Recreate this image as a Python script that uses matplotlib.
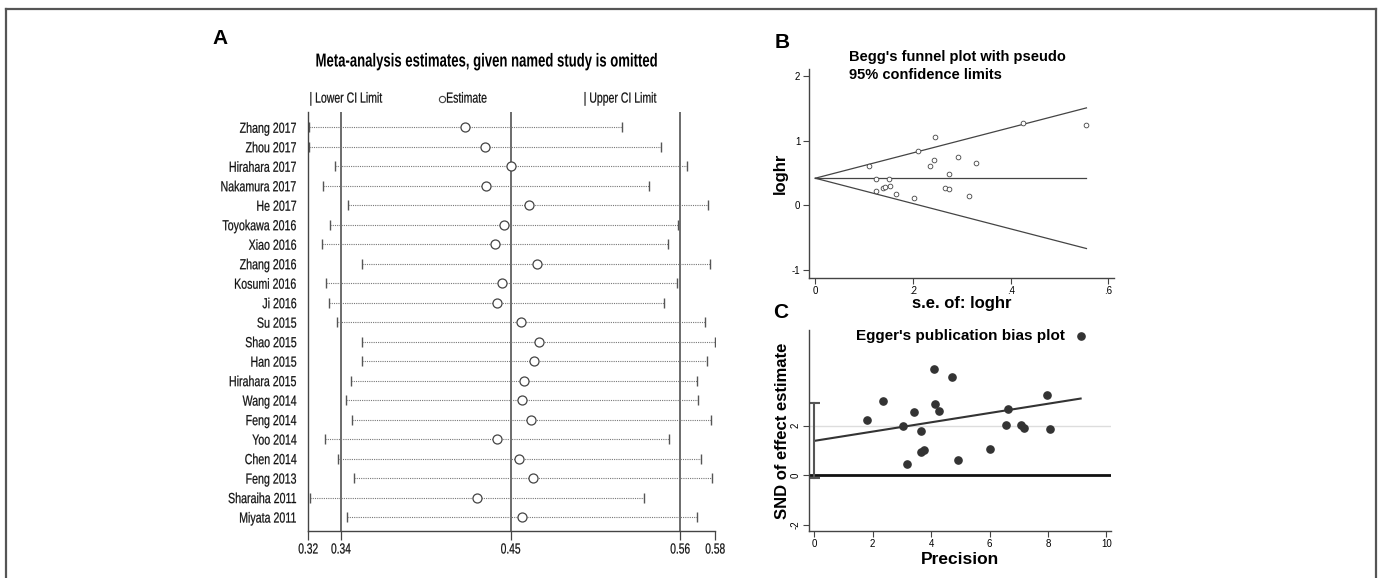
import numpy as np
import matplotlib.pyplot as plt
from matplotlib.lines import Line2D
from matplotlib.patheffects import AbstractPathEffect
from matplotlib.transforms import Affine2D
import matplotlib.transforms as mtransforms

W, H = 1381, 578

# panel A: leave-one-out estimates
studies = ["Zhang 2017", "Zhou 2017", "Hirahara 2017", "Nakamura 2017", "He 2017",
           "Toyokawa 2016", "Xiao 2016", "Zhang 2016", "Kosumi 2016", "Ji 2016",
           "Su 2015", "Shao 2015", "Han 2015", "Hirahara 2015", "Wang 2014",
           "Feng 2014", "Yoo 2014", "Chen 2014", "Feng 2013", "Sharaiha 2011",
           "Miyata 2011"]
est = [0.4207, 0.4335, 0.4500, 0.4341, 0.4613, 0.4454, 0.4398, 0.4664, 0.4441, 0.4409,
       0.4562, 0.4678, 0.4648, 0.4581, 0.4570, 0.4627, 0.4409, 0.4553, 0.4642, 0.4284,
       0.4570]
lower = [0.3214, 0.3214, 0.3378, 0.3304, 0.3465, 0.3346, 0.3295, 0.3554, 0.3323, 0.3344,
         0.3391, 0.3554, 0.3554, 0.3480, 0.3452, 0.3486, 0.3314, 0.3397, 0.3503, 0.3223,
         0.3456]
upper = [0.5206, 0.5455, 0.5620, 0.5376, 0.5756, 0.5561, 0.5501, 0.5766, 0.5558, 0.5476,
         0.5735, 0.5800, 0.5745, 0.5684, 0.5688, 0.5771, 0.5507, 0.5709, 0.5781, 0.5348,
         0.5684]
ref_lines = [0.3418, 0.4498, 0.5577]
a_ticks = [0.321, 0.3418, 0.4498, 0.5577, 0.58]
a_ticklabels = ["0.32", "0.34", "0.45", "0.56", "0.58"]

# panel B: Begg's funnel
se = [0.109, 0.125, 0.124, 0.139, 0.142, 0.151, 0.152, 0.166, 0.202, 0.211, 0.234,
      0.242, 0.244, 0.265, 0.273, 0.273, 0.292, 0.314, 0.329, 0.425, 0.555]
loghr = [0.614, 0.403, 0.227, 0.263, 0.279, 0.403, 0.304, 0.175, 0.118, 0.837, 0.605,
         0.702, 1.059, 0.268, 0.258, 0.485, 0.744, 0.140, 0.656, 1.276, 1.250]
funnel_x = [0, 0.555]
funnel_mid = [0.42, 0.42]
funnel_up = [0.42, 1.51]
funnel_lo = [0.42, -0.67]

# panel C: Egger's plot
precision = [1.80, 2.35, 3.05, 3.17, 3.41, 3.64, 3.65, 3.77, 4.09, 4.12, 4.27, 4.73,
             4.93, 6.01, 6.58, 6.63, 7.07, 7.17, 7.98, 8.07, 9.12]
snd = [2.25, 3.02, 2.00, 0.47, 2.54, 1.78, 0.94, 1.02, 4.31, 2.89, 2.58, 3.96, 0.61,
       1.05, 2.03, 2.68, 2.04, 1.92, 3.26, 1.86, 5.63]
egger_x = [0, 9.12]
egger_y = [1.39, 3.10]
egger_ci = [-0.13, 2.91]

sans = ["Liberation Sans", "DejaVu Sans"]


class Squeeze(AbstractPathEffect):
    # no narrow font available, so squeeze the glyphs horizontally
    def __init__(self, sx=0.72, anchor="left", stroke=0.15):
        super().__init__()
        self.sx = sx
        self.anchor = anchor
        self.stroke = stroke

    def draw_path(self, renderer, gc, tpath, affine, rgbFace=None):
        ext = tpath.get_extents(affine)
        x0 = {"left": ext.x0, "right": ext.x1, "center": 0.5 * (ext.x0 + ext.x1)}[self.anchor]
        aff = affine + Affine2D().translate(-x0, 0).scale(self.sx, 1).translate(x0, 0)
        gc0 = renderer.new_gc()
        gc0.copy_properties(gc)
        if self.stroke and rgbFace is not None:
            gc0.set_linewidth(self.stroke)
            gc0.set_foreground(rgbFace)
        renderer.draw_path(gc0, tpath, aff, rgbFace)
        gc0.restore()


def rect(l, t, r, b):
    return [l / W, 1 - b / H, (r - l) / W, (b - t) / H]


fig = plt.figure(figsize=(W / 100, H / 100), dpi=100)

# frame around figure
for xs, ys in [([6, 6], [578, 9]), ([6, 1376], [9, 9]), ([1376, 1376], [9, 578])]:
    fig.add_artist(Line2D([x / W for x in xs], [1 - y / H for y in ys],
                          color="#555555", lw=1.6))

# ---- A ----
axA = fig.add_axes(rect(308.3, 112, 715.3, 530.7))
rows = np.arange(len(studies))
for i in rows:
    axA.plot([lower[i], upper[i]], [i, i], ls=(0, (1, 1)), color="#777777", lw=0.8)
axA.plot(lower, rows, ls="none", marker="|", ms=7.5, mew=1.0, color="#555555")
axA.plot(upper, rows, ls="none", marker="|", ms=7.5, mew=1.0, color="#555555")
axA.plot(est, rows, ls="none", marker="o", ms=6.5, mfc="white", mec="#444444", mew=0.9)
for v in ref_lines:
    axA.axvline(v, color="#444444", lw=1.1, zorder=0)
axA.set_xlim(0.321, 0.58)
axA.set_ylim(20.7, -0.785)
axA.set_yticks(rows)
axA.set_yticklabels(studies, family=sans, fontsize=10.5, color="#111111",
                    path_effects=[Squeeze(0.73, "right")])
axA.tick_params(axis="y", length=0, pad=8)
axA.set_xticks(a_ticks)
axA.set_xticklabels(a_ticklabels, family=sans, fontsize=10.5, color="#111111",
                    path_effects=[Squeeze(0.7, "center")])
axA.tick_params(axis="x", direction="out", length=6.5, width=0.9, color="#444444", pad=2)
for s in ["top", "right"]:
    axA.spines[s].set_visible(False)
for s in ["left", "bottom"]:
    axA.spines[s].set_color("#444444")
    axA.spines[s].set_linewidth(1.0)

trA = mtransforms.blended_transform_factory(axA.transData, axA.transAxes)
legend_kw = dict(transform=trA, family=sans, fontsize=10.5, va="center", ha="left",
                 color="#111111", path_effects=[Squeeze(0.72, "left")])
axA.text(0.3215, 1.032, "| Lower CI Limit", **legend_kw)
axA.plot([0.4058], [1.032], transform=trA, marker="o", ms=4.5, mfc="white",
         mec="#444444", mew=0.8, clip_on=False)
axA.text(0.4085, 1.032, "Estimate", **legend_kw)
axA.text(0.4960, 1.032, "| Upper CI Limit", **legend_kw)
fig.text(486 / W, 1 - 62 / H, "Meta-analysis estimates, given named study is omitted",
         family=sans, fontsize=13.5, fontweight="bold", ha="center", va="center",
         path_effects=[Squeeze(0.70, "center", 0)])
fig.text(220 / W, 1 - 39 / H, "A", family=sans, fontsize=15, fontweight="bold",
         ha="center", va="center")

# ---- B ----
axB = fig.add_axes(rect(808.7, 69.3, 1114.3, 277.7))
axB.plot(funnel_x, funnel_mid, color="#444444", lw=0.9)
axB.plot(funnel_x, funnel_up, color="#444444", lw=0.9)
axB.plot(funnel_x, funnel_lo, color="#444444", lw=0.9)
axB.plot(se, loghr, ls="none", marker="o", ms=3.4, mfc="white", mec="#444444", mew=0.6)
axB.set_xlim(-0.0135, 0.612)
axB.set_ylim(-1.122, 2.108)
axB.set_xticks([0, 0.2, 0.4, 0.6])
axB.set_xticklabels(["0", ".2", ".4", ".6"])
axB.set_yticks([-1, 0, 1, 2])
axB.set_yticklabels(["-1", "0", "1", "2"])
axB.set_xlabel("s.e. of: loghr", family=sans, fontsize=12, fontweight="bold", labelpad=0)
axB.set_ylabel("loghr", family=sans, fontsize=12, fontweight="bold", labelpad=3)
fig.text(849.3 / W, 1 - 66 / H, "Begg's funnel plot with pseudo\n95% confidence limits",
         family=sans, fontsize=10.5, fontweight="bold", ha="left", va="center",
         linespacing=1.35)
fig.text(782 / W, 1 - 43 / H, "B", family=sans, fontsize=15, fontweight="bold",
         ha="center", va="center")

# ---- C ----
axC = fig.add_axes(rect(809.3, 330, 1111, 530.7))
axC.axhline(2, color="#dddddd", lw=1.0, zorder=0)
axC.axhline(0, color="#111111", lw=2.0, zorder=1)
axC.plot(egger_x, egger_y, color="#333333", lw=1.5)
axC.plot([0, 0], egger_ci, color="#555555", lw=1.5)
axC.plot([0, 0], egger_ci, ls="none", marker="_", ms=8, mew=1.5, color="#555555")
axC.plot(precision, snd, ls="none", marker="o", ms=5.2, color="#333333")
axC.set_xlim(-0.17, 10.16)
axC.set_ylim(-2.24, 5.87)
axC.set_xticks([0, 2, 4, 6, 8, 10])
axC.set_yticks([-2, 0, 2])
axC.set_yticklabels(["-2", "0", "2"], rotation=90, va="center")
axC.set_xlabel("Precision", family=sans, fontsize=12.5, fontweight="bold", labelpad=2)
axC.set_ylabel("SND of effect estimate", family=sans, fontsize=12, fontweight="bold",
               labelpad=1)
axC.set_title("Egger's publication bias plot", family=sans, fontsize=11,
              fontweight="bold", x=0.50, y=0.93, va="center")
fig.text(781 / W, 1 - 313 / H, "C", family=sans, fontsize=15, fontweight="bold",
         ha="center", va="center")

for ax in (axB, axC):
    for s in ["top", "right"]:
        ax.spines[s].set_visible(False)
    for s in ["left", "bottom"]:
        ax.spines[s].set_color("#444444")
        ax.spines[s].set_linewidth(1.0)
    ax.tick_params(direction="out", length=4, width=0.8, color="#444444", labelsize=7,
                   pad=2)
    for lab in ax.get_xticklabels() + ax.get_yticklabels():
        lab.set_family(sans)

fig.savefig("out.png", dpi=100)
